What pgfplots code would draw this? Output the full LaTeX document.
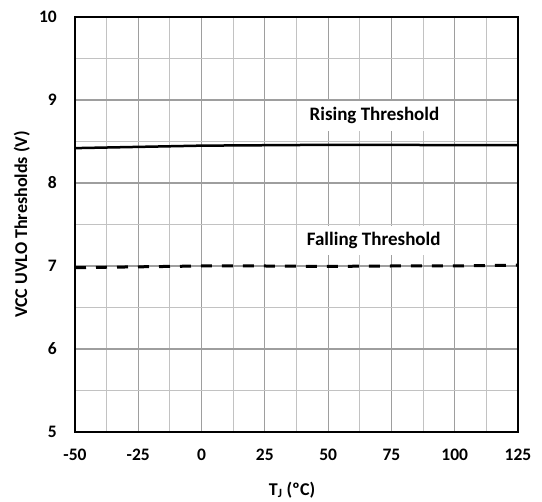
\documentclass[border=0pt]{standalone}
\usepackage{fontspec}
\setmainfont{Carlito}
\usepackage{pgfplots}
\pgfplotsset{compat=1.18}

\begin{document}
\begin{tikzpicture}
  \begin{axis}[
    at={(0,0)}, anchor=south west,
    scale only axis,
    width=443pt, height=415pt,
    xmin=-50, xmax=125, ymin=5, ymax=10,
    xtick={-50,-25,...,125},
    ytick={5,6,...,10},
    minor x tick num=1,
    minor y tick num=1,
    major tick length=0pt, minor tick length=0pt,
    grid=both,
    major grid style={black!38, line width=1.1pt},
    minor grid style={black!24, line width=1.1pt},
    axis line style={black, line width=1.8pt},
    /pgf/number format/assume math mode=true,
    ticklabel style={font=\fontsize{17.5}{19}\selectfont\bfseries, inner sep=0pt},
    xticklabel style={anchor=north, yshift=-17pt},
    yticklabel style={anchor=east, xshift=-18pt},
    label style={font=\fontsize{18}{20}\selectfont\bfseries},
    xlabel={T\textsubscript{J} (ºC)},
    ylabel={VCC UVLO Thresholds (V)},
    xlabel style={at={(axis description cs:0.49,-0.152)}, anchor=base},
    ylabel style={at={(axis description cs:-0.12,0.5)}, anchor=center},
  ]
    % Rising threshold
    \addplot[black, line width=2.5pt] coordinates {
      (-50, 8.42) (-25, 8.435) (0, 8.45) (25, 8.455)
      (50, 8.46) (75, 8.46) (100, 8.455) (125, 8.455)
    };
    % Falling threshold
    \addplot[black, line width=3pt, dash pattern=on 11pt off 10pt] coordinates {
      (-50, 6.98) (-25, 6.99) (0, 7.00) (25, 7.00)
      (50, 6.995) (75, 7.00) (100, 7.00) (125, 7.01)
    };
    \node[fill=white, inner xsep=10pt, inner ysep=6.5pt,
          font=\fontsize{19}{21}\selectfont\bfseries]
      at (axis cs:68.3,8.81) {Rising Threshold};
    \node[fill=white, inner xsep=10pt, inner ysep=6.5pt,
          font=\fontsize{19}{21}\selectfont\bfseries]
      at (axis cs:68,7.305) {Falling Threshold};
  \end{axis}
  \pgfresetboundingbox
  \path (-75pt,-70pt) rectangle (467pt,432pt);
\end{tikzpicture}
\end{document}
